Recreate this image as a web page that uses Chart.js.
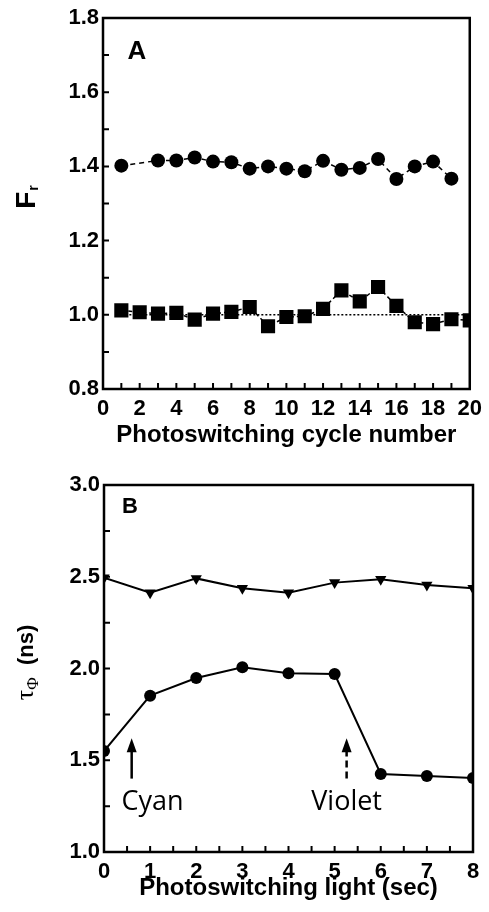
<!DOCTYPE html>
<html>
<head>
<meta charset="UTF-8">
<script src="https://cdn.jsdelivr.net/npm/chart.js"></script>
<style>
    body { margin: 0; background: #fff; }
    canvas { display: block; }
</style>
</head>
<body>
<canvas id="chartA" width="489" height="456"></canvas>
<canvas id="chartB" width="489" height="456"></canvas>

<script>
    // ---- panel A data ----
    const cycleNumber = [1, 2, 3, 4, 5, 6, 7, 8, 9, 10, 11, 12, 13, 14, 15, 16, 17, 18, 19, 20];
    const frCircles = [1.402, null, 1.416, 1.416, 1.424, 1.413, 1.411, 1.394, 1.400, 1.394,
                       1.387, 1.415, 1.391, 1.396, 1.420, 1.366, 1.400, 1.413, 1.367, null];
    const frSquares = [1.012, 1.007, 1.003, 1.005, 0.987, 1.003, 1.008, 1.021, 0.969, 0.994,
                       0.996, 1.016, 1.066, 1.036, 1.075, 1.024, 0.980, 0.975, 0.988, 0.985];
    const refCycles = [1, 20];
    const refLevel = [1.0, 1.0];
    const aMinorX = [1, 2, 3, 4, 5, 6, 7, 8, 9, 10, 11, 12, 13, 14, 15, 16, 17, 18, 19];
    const aMinorY = [0.9, 1.0, 1.1, 1.2, 1.3, 1.4, 1.5, 1.6, 1.7];

    // ---- panel B data ----
    const lightSec = [0, 1, 2, 3, 4, 5, 6, 7, 8];
    const tauTriangles = [2.495, 2.413, 2.491, 2.437, 2.413, 2.468, 2.486, 2.455, 2.437];
    const tauCircles = [1.550, 1.852, 1.948, 2.007, 1.974, 1.970, 1.425, 1.414, 1.403];
    const bMinorX = [0.5, 1, 1.5, 2, 2.5, 3, 3.5, 4, 4.5, 5, 5.5, 6, 6.5, 7, 7.5];
    const bMinorY = [1.25, 1.5, 1.75, 2.0, 2.25, 2.5, 2.75];
    const arrowX = [0.6, 5.26];          // cyan, violet
    const arrowTail = 1.40, arrowTip = 1.62;
    const lightNames = ['Cyan', 'Violet'];
    const lightLabelX = [1.05, 5.26];
    const lightLabelY = 1.23;

    const bold = size => ({family: 'Liberation Sans', size: size, weight: 'bold'});
    const pts = (xs, ys) => xs.map((v, i) => ({x: v, y: ys[i]}));

    // inward tick marks + closed frame
    const framePlugin = {
        id: 'frame',
        afterDatasetsDraw(chart, args, opts) {
            const {ctx, chartArea: a, scales: {x, y}} = chart;
            ctx.save();
            ctx.strokeStyle = '#000';
            ctx.lineWidth = 2;
            ctx.beginPath();
            opts.xMinor.forEach(v => {
                const px = x.getPixelForValue(v);
                ctx.moveTo(px, a.bottom);
                ctx.lineTo(px, a.bottom - 6);
            });
            opts.yMinor.forEach(v => {
                const py = y.getPixelForValue(v);
                ctx.moveTo(a.left, py);
                ctx.lineTo(a.left + 6, py);
            });
            ctx.stroke();
            ctx.lineWidth = 2.5;
            ctx.strokeRect(a.left, a.top, a.right - a.left, a.bottom - a.top);
            ctx.restore();
        }
    };

    const axisX = (min, max, step, title, pad) => ({
        type: 'linear', min: min, max: max,
        grid: {display: false, drawTicks: false}, border: {display: false},
        ticks: {stepSize: step, padding: 7, color: '#000', font: bold(22), maxRotation: 0, autoSkip: false},
        title: {display: true, text: title, color: '#000', font: bold(24), padding: {top: 0, bottom: pad}}
    });
    const axisY = (min, max, step) => ({
        min: min, max: max,
        grid: {display: false, drawTicks: false}, border: {display: false},
        ticks: {stepSize: step, padding: 4, color: '#000', font: bold(22), callback: v => v.toFixed(1)}
    });

    // ---- chart A ----
    const xA = axisX(0, 20, 2, 'Photoswitching cycle number', 6);
    xA.afterFit = s => { s.height = 67; };
    const yA = axisY(0.8, 1.8, 0.2);
    yA.afterFit = s => { s.width = 103; };

    new Chart(document.getElementById('chartA'), {
        type: 'line',
        data: {
            datasets: [{
                data: pts(refCycles, refLevel),
                borderColor: '#000', borderWidth: 1.5, borderDash: [2, 2], pointRadius: 0
            }, {
                data: pts(cycleNumber, frSquares),
                borderColor: '#000', borderWidth: 1.5, borderDash: [4, 3],
                pointStyle: 'rect', pointRadius: 10, pointBackgroundColor: '#000', pointBorderWidth: 0
            }, {
                data: pts(cycleNumber, frCircles), spanGaps: true,
                borderColor: '#000', borderWidth: 1.5, borderDash: [5, 4],
                pointStyle: 'circle', pointRadius: 7, pointBackgroundColor: '#000', pointBorderWidth: 0
            }]
        },
        options: {
            responsive: false, animation: false, devicePixelRatio: 1,
            layout: {padding: {top: 18, right: 14, left: 0, bottom: 0}},
            scales: {x: xA, y: yA},
            plugins: {
                legend: {display: false}, tooltip: {enabled: false},
                frame: {xMinor: aMinorX, yMinor: aMinorY}
            }
        },
        plugins: [framePlugin, {
            id: 'labelsA',
            afterDraw(chart) {
                const {ctx, chartArea: a, scales: {x, y}} = chart;
                ctx.save();
                ctx.fillStyle = '#000';
                ctx.textBaseline = 'alphabetic';
                ctx.textAlign = 'left';
                ctx.font = 'bold 26px "Liberation Sans"';
                ctx.fillText('A', x.getPixelForValue(1.34), y.getPixelForValue(1.69));
                // y title F_r, rotated
                ctx.translate(35, (a.top + a.bottom) / 2 - 6);
                ctx.rotate(-Math.PI / 2);
                ctx.font = 'bold 28px "Liberation Sans"';
                const wF = ctx.measureText('F').width;
                ctx.font = 'bold 14px "Liberation Sans"';
                const wr = ctx.measureText('r').width;
                const start = -(wF + wr) / 2;
                ctx.font = 'bold 28px "Liberation Sans"';
                ctx.fillText('F', start, 0);
                ctx.font = 'bold 14px "Liberation Sans"';
                ctx.fillText('r', start + wF + 1, 3);
                ctx.restore();
            }
        }]
    });

    // ---- chart B ----
    const xB = axisX(0, 8, 1, 'Photoswitching light (sec)', 9);
    xB.afterFit = s => { s.height = 60; };
    const yB = axisY(1, 3, 0.5);
    yB.afterFit = s => { s.width = 104; };

    new Chart(document.getElementById('chartB'), {
        type: 'line',
        data: {
            datasets: [{
                data: pts(lightSec, tauTriangles),
                borderColor: '#000', borderWidth: 2,
                pointStyle: 'triangle', rotation: 180, pointRadius: 6.5,
                pointBackgroundColor: '#000', pointBorderWidth: 0
            }, {
                data: pts(lightSec, tauCircles),
                borderColor: '#000', borderWidth: 2,
                pointStyle: 'circle', pointRadius: 6, pointBackgroundColor: '#000', pointBorderWidth: 0
            }]
        },
        options: {
            responsive: false, animation: false, devicePixelRatio: 1,
            layout: {padding: {top: 29, right: 16, left: 0, bottom: 0}},
            scales: {x: xB, y: yB},
            plugins: {
                legend: {display: false}, tooltip: {enabled: false},
                frame: {xMinor: bMinorX, yMinor: bMinorY}
            }
        },
        plugins: [framePlugin, {
            id: 'labelsB',
            afterDraw(chart) {
                const {ctx, chartArea: a, scales: {x, y}} = chart;
                ctx.save();
                ctx.fillStyle = '#000';
                ctx.strokeStyle = '#000';
                ctx.textBaseline = 'alphabetic';
                ctx.textAlign = 'left';
                ctx.font = 'bold 22px "Liberation Sans"';
                ctx.fillText('B', x.getPixelForValue(0.39), y.getPixelForValue(2.85));

                // arrows
                arrowX.forEach((ax, i) => {
                    const px = x.getPixelForValue(ax);
                    const tip = y.getPixelForValue(arrowTip);
                    const tail = y.getPixelForValue(arrowTail);
                    ctx.lineWidth = 2.5;
                    ctx.setLineDash(i === 1 ? [7, 4] : []);
                    ctx.beginPath();
                    ctx.moveTo(px, tail);
                    ctx.lineTo(px, tip + 10);
                    ctx.stroke();
                    ctx.setLineDash([]);
                    ctx.beginPath();
                    ctx.moveTo(px, tip);
                    ctx.lineTo(px - 5, tip + 14);
                    ctx.lineTo(px + 5, tip + 14);
                    ctx.closePath();
                    ctx.fill();
                    ctx.textAlign = 'center';
                    ctx.font = '27px "Open Sans"';
                    ctx.fillText(lightNames[i], x.getPixelForValue(lightLabelX[i]), y.getPixelForValue(lightLabelY));
                });

                // y title: tau_Phi (ns), rotated
                ctx.translate(33, (a.top + a.bottom) / 2 - 6);
                ctx.rotate(-Math.PI / 2);
                ctx.textAlign = 'left';
                ctx.font = '26px "Liberation Serif"';
                const wt = ctx.measureText('\u03C4').width;
                ctx.font = '17px "Liberation Serif"';
                const wp = ctx.measureText('\u03A6').width;
                ctx.font = 'bold 22px "Liberation Sans"';
                const wn = ctx.measureText('  (ns)').width;
                let cx = -(wt + wp + wn) / 2;
                ctx.font = '26px "Liberation Serif"';
                ctx.fillText('\u03C4', cx, 0);
                cx += wt;
                ctx.font = '17px "Liberation Serif"';
                ctx.fillText('\u03A6', cx, 5);
                cx += wp;
                ctx.font = 'bold 22px "Liberation Sans"';
                ctx.fillText('  (ns)', cx, 0);
                ctx.restore();
            }
        }]
    });
</script>
</body>
</html>
